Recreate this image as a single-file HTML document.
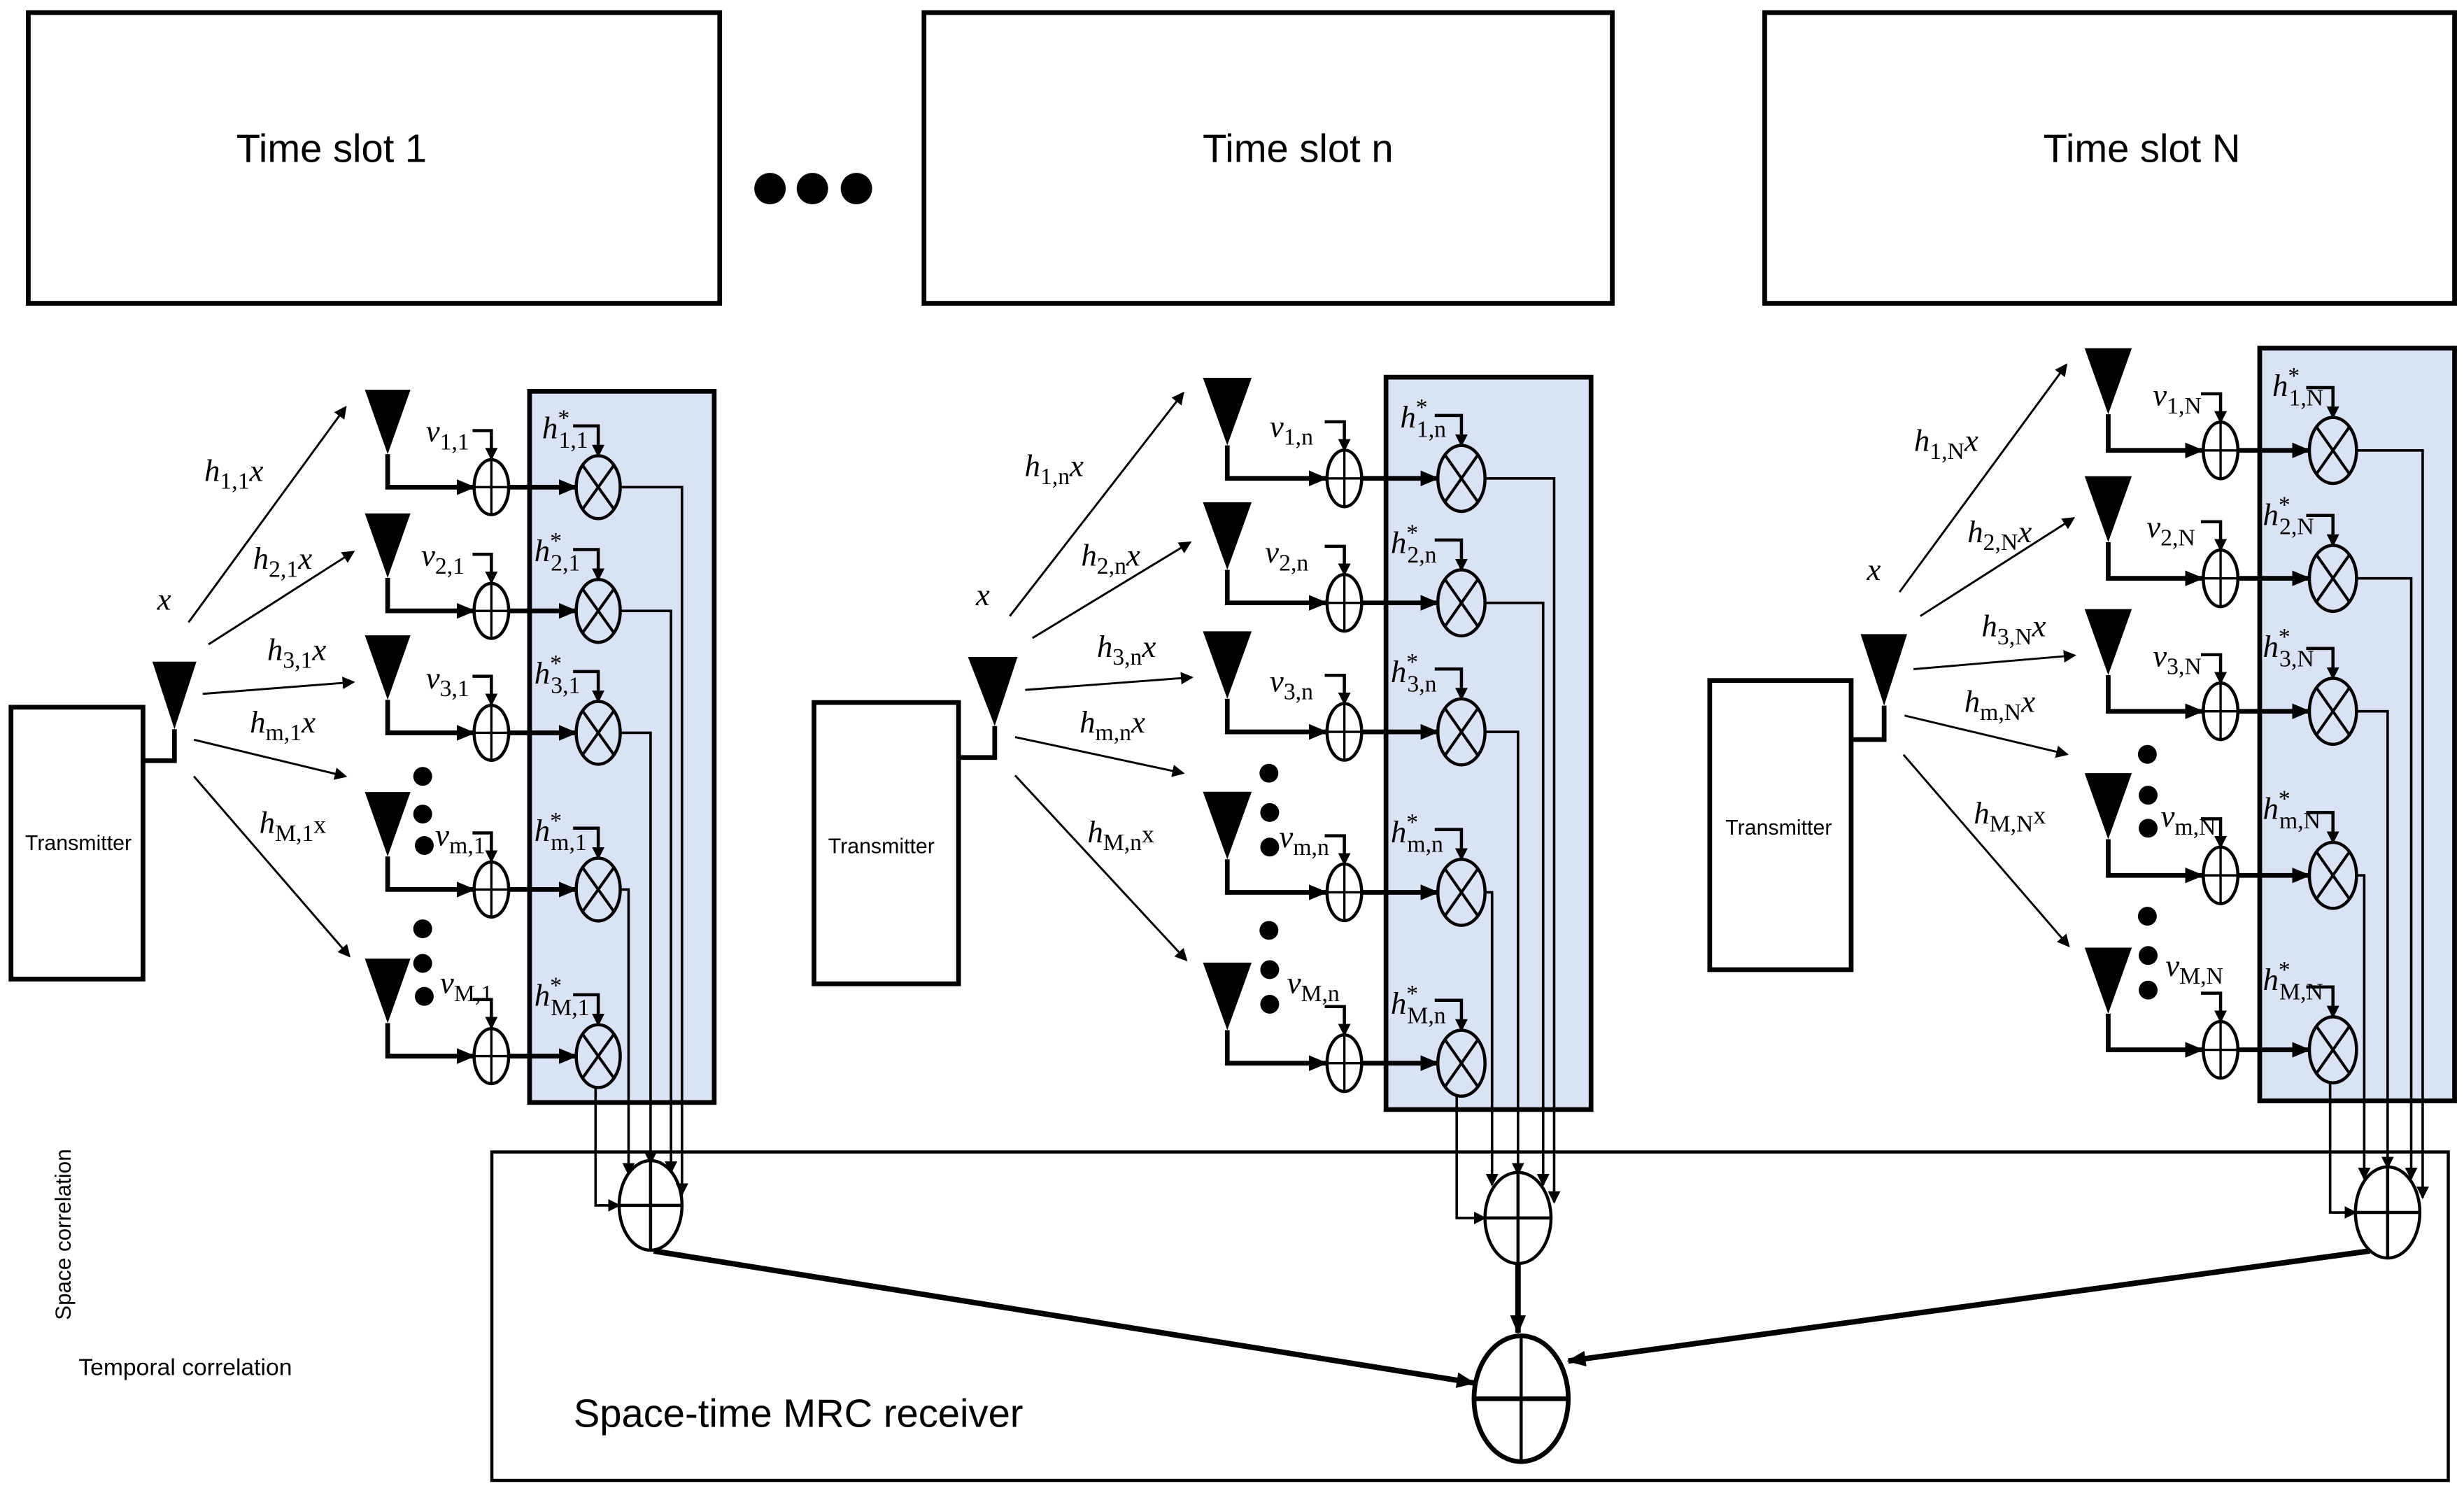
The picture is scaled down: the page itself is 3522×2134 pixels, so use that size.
<!DOCTYPE html>
<html><head><meta charset="utf-8"><style>
html,body{margin:0;padding:0;background:#fff}
svg{display:block}
.l{font-family:"Liberation Serif",serif;font-style:italic;font-size:20px}
.s{font-size:15px;font-style:normal}
.t{font-family:"Liberation Sans",sans-serif}
</style></head><body>
<svg width="3522" height="2134" viewBox="0 0 1568 950" preserveAspectRatio="none" xmlns="http://www.w3.org/2000/svg">
<defs>
<marker id="a" markerWidth="8" markerHeight="8" refX="7" refY="4" orient="auto" markerUnits="userSpaceOnUse"><path d="M0,0 L8,4 L0,8z"/></marker>
<marker id="b" markerWidth="12" markerHeight="10" refX="11" refY="5" orient="auto" markerUnits="userSpaceOnUse"><path d="M0,0 L12,5 L0,10z"/></marker>
<g id="rA">
<polygon points="-14.5,-62 14.5,-62 0,-21"/>
<polyline points="0,-21 0,0 55,0" fill="none" stroke="#000" stroke-width="3" marker-end="url(#b)"/>
<ellipse cx="66" cy="0" rx="11" ry="17.5" fill="none" stroke="#000" stroke-width="2"/>
<line x1="55" y1="0" x2="77" y2="0" stroke="#000" stroke-width="1.5"/>
<line x1="66" y1="-17.5" x2="66" y2="17.5" stroke="#000" stroke-width="1.5"/>
<line x1="77" y1="0" x2="120" y2="0" stroke="#000" stroke-width="3" marker-end="url(#b)"/>
<ellipse cx="134" cy="0" rx="14" ry="20" fill="none" stroke="#000" stroke-width="2"/>
<line x1="124" y1="-14" x2="144" y2="14" stroke="#000" stroke-width="1.8"/>
<line x1="144" y1="-14" x2="124" y2="14" stroke="#000" stroke-width="1.8"/>
<polyline points="54,-36 66,-36 66,-18" fill="none" stroke="#000" stroke-width="2" marker-end="url(#a)"/>
<polyline points="118,-39 134,-39 134,-20" fill="none" stroke="#000" stroke-width="2" marker-end="url(#a)"/>
</g>
<g id="rB">
<polygon points="-15.5,-64 15.5,-64 0,-21"/>
<polyline points="0,-21 0,0 63,0" fill="none" stroke="#000" stroke-width="3" marker-end="url(#b)"/>
<ellipse cx="74.5" cy="0" rx="11" ry="18" fill="none" stroke="#000" stroke-width="2"/>
<line x1="63.5" y1="0" x2="85.5" y2="0" stroke="#000" stroke-width="1.5"/>
<line x1="74.5" y1="-18" x2="74.5" y2="18" stroke="#000" stroke-width="1.5"/>
<line x1="85.5" y1="0" x2="134" y2="0" stroke="#000" stroke-width="3" marker-end="url(#b)"/>
<ellipse cx="149" cy="0" rx="15" ry="21" fill="none" stroke="#000" stroke-width="2"/>
<line x1="138.5" y1="-15" x2="159.5" y2="15" stroke="#000" stroke-width="1.8"/>
<line x1="159.5" y1="-15" x2="138.5" y2="15" stroke="#000" stroke-width="1.8"/>
<polyline points="62,-36 74.5,-36 74.5,-18" fill="none" stroke="#000" stroke-width="2" marker-end="url(#a)"/>
<polyline points="132,-40 149,-40 149,-21" fill="none" stroke="#000" stroke-width="2" marker-end="url(#a)"/>
</g>
<g id="rC">
<polygon points="-15,-65 15,-65 0,-23"/>
<polyline points="0,-23 0,0 60,0" fill="none" stroke="#000" stroke-width="3" marker-end="url(#b)"/>
<ellipse cx="71.5" cy="0" rx="11" ry="18" fill="none" stroke="#000" stroke-width="2"/>
<line x1="60.5" y1="0" x2="82.5" y2="0" stroke="#000" stroke-width="1.5"/>
<line x1="71.5" y1="-18" x2="71.5" y2="18" stroke="#000" stroke-width="1.5"/>
<line x1="82.5" y1="0" x2="128" y2="0" stroke="#000" stroke-width="3" marker-end="url(#b)"/>
<ellipse cx="143" cy="0" rx="15" ry="21" fill="none" stroke="#000" stroke-width="2"/>
<line x1="132.5" y1="-15" x2="153.5" y2="15" stroke="#000" stroke-width="1.8"/>
<line x1="153.5" y1="-15" x2="132.5" y2="15" stroke="#000" stroke-width="1.8"/>
<polyline points="59,-36 71.5,-36 71.5,-18" fill="none" stroke="#000" stroke-width="2" marker-end="url(#a)"/>
<polyline points="126,-40 143,-40 143,-21" fill="none" stroke="#000" stroke-width="2" marker-end="url(#a)"/>
</g>
</defs>

<g fill="#fff" stroke="#000" stroke-width="3">
<rect x="18" y="8" width="440" height="185"/>
<rect x="588" y="8" width="438" height="185"/>
<rect x="1123" y="8" width="439" height="185"/>
</g>
<g class="t" font-size="25" text-anchor="middle">
<text x="211" y="103">Time slot 1</text>
<text x="826" y="103">Time slot n</text>
<text x="1363" y="103">Time slot N</text>
</g>
<circle cx="490" cy="120" r="10"/><circle cx="517" cy="120" r="10"/><circle cx="545" cy="120" r="10"/>

<rect x="313" y="733" width="1245" height="209" fill="none" stroke="#000" stroke-width="2"/>

<rect x="337" y="249" width="117.5" height="452.5" fill="#dae3f3" stroke="#000" stroke-width="3"/>
<rect x="882" y="240" width="130.5" height="466" fill="#dae3f3" stroke="#000" stroke-width="3"/>
<rect x="1438" y="221.5" width="124" height="479" fill="#dae3f3" stroke="#000" stroke-width="3"/>

<g fill="#fff" stroke="#000" stroke-width="3">
<rect x="7" y="450" width="84" height="173"/>
<rect x="518" y="447" width="92" height="179"/>
<rect x="1088" y="433" width="90" height="184"/>
</g>
<polygon points="97,421 125,421 111,464"/>
<polyline points="111,464 111,484 91,484" fill="none" stroke="#000" stroke-width="3"/>
<polygon points="616,418 647.5,418 633,462"/>
<polyline points="633,462 633,482 610,482" fill="none" stroke="#000" stroke-width="3"/>
<polygon points="1184,403.5 1213.6,403.5 1199,449"/>
<polyline points="1199,449 1199,470.6 1178,470.6" fill="none" stroke="#000" stroke-width="3"/>

<g stroke="#000" stroke-width="1.3" marker-end="url(#a)">
<line x1="120" y1="396" x2="220" y2="259"/>
<line x1="132.7" y1="410" x2="225" y2="351"/>
<line x1="129" y1="441.5" x2="225" y2="434"/>
<line x1="123.4" y1="470.7" x2="220" y2="494"/>
<line x1="123.4" y1="494" x2="222.4" y2="608.5"/>
<line x1="642.6" y1="392" x2="753" y2="250"/>
<line x1="657" y1="406" x2="757.5" y2="345"/>
<line x1="652.4" y1="439" x2="758.5" y2="431"/>
<line x1="646" y1="469" x2="753" y2="492"/>
<line x1="646" y1="493.4" x2="755" y2="611"/>
<line x1="1208.8" y1="376.7" x2="1315" y2="232"/>
<line x1="1222" y1="392" x2="1319.7" y2="329.6"/>
<line x1="1217.7" y1="425.8" x2="1320.3" y2="417"/>
<line x1="1212" y1="455.3" x2="1315.5" y2="480"/>
<line x1="1211.3" y1="480.2" x2="1316.5" y2="602"/>
</g>

<use href="#rA" transform="translate(246.7,310)"/>
<use href="#rA" transform="translate(246.7,388.7)"/>
<use href="#rA" transform="translate(246.7,466.3)"/>
<use href="#rA" transform="translate(246.7,566)"/>
<use href="#rA" transform="translate(246.7,672)"/>
<use href="#rB" transform="translate(781,304.4)"/>
<use href="#rB" transform="translate(781,383.6)"/>
<use href="#rB" transform="translate(781,465.7)"/>
<use href="#rB" transform="translate(781,567.8)"/>
<use href="#rB" transform="translate(781,676.5)"/>
<use href="#rC" transform="translate(1341.6,286.6)"/>
<use href="#rC" transform="translate(1341.6,368)"/>
<use href="#rC" transform="translate(1341.6,452.6)"/>
<use href="#rC" transform="translate(1341.6,557)"/>
<use href="#rC" transform="translate(1341.6,668)"/>

<circle cx="269" cy="494" r="6"/><circle cx="269" cy="518" r="6"/><circle cx="270" cy="538" r="6"/>
<circle cx="269" cy="591" r="6"/><circle cx="269" cy="613" r="6"/><circle cx="270" cy="634" r="6"/>
<circle cx="807.5" cy="492" r="6"/><circle cx="808" cy="517" r="6"/><circle cx="808" cy="539" r="6"/>
<circle cx="807.5" cy="592" r="6"/><circle cx="808" cy="617" r="6"/><circle cx="808" cy="639" r="6"/>
<circle cx="1366.5" cy="480" r="6"/><circle cx="1367" cy="506" r="6"/><circle cx="1367" cy="527" r="6"/>
<circle cx="1366.5" cy="583" r="6"/><circle cx="1367" cy="608" r="6"/><circle cx="1367" cy="630" r="6"/>

<g fill="none" stroke="#000" stroke-width="1.6">
<polyline points="394,310 434,310 434,760" marker-end="url(#a)"/>
<polyline points="394,388.7 427,388.7 427,746" marker-end="url(#a)"/>
<polyline points="394,466.3 414,466.3 414,740" marker-end="url(#a)"/>
<polyline points="394,566 400,566 400,747" marker-end="url(#a)"/>
<polyline points="379,692 379,767 394,767" marker-end="url(#a)"/>
<polyline points="945,304.4 989,304.4 989,765" marker-end="url(#a)"/>
<polyline points="945,383.6 982,383.6 982,754" marker-end="url(#a)"/>
<polyline points="945,465.7 966,465.7 966,747" marker-end="url(#a)"/>
<polyline points="945,567.8 949.5,567.8 949.5,754" marker-end="url(#a)"/>
<polyline points="927,697 927,775 945,775" marker-end="url(#a)"/>
<polyline points="1499,286.6 1541.7,286.6 1541.7,762" marker-end="url(#a)"/>
<polyline points="1499,368 1534.4,368 1534.4,750" marker-end="url(#a)"/>
<polyline points="1499,452.6 1519.4,452.6 1519.4,743" marker-end="url(#a)"/>
<polyline points="1499,557 1504.5,557 1504.5,750" marker-end="url(#a)"/>
<polyline points="1482.8,689 1482.8,771.5 1499,771.5" marker-end="url(#a)"/>
</g>
<g fill="none" stroke="#000" stroke-width="2">
<ellipse cx="414" cy="767" rx="20" ry="28.5"/>
<line x1="394" y1="767" x2="434" y2="767"/><line x1="414" y1="738.5" x2="414" y2="795.5"/>
<ellipse cx="966" cy="775" rx="21" ry="29"/>
<line x1="945" y1="775" x2="987" y2="775"/><line x1="966" y1="746" x2="966" y2="804"/>
<ellipse cx="1519.4" cy="771.5" rx="20.5" ry="29"/>
<line x1="1499" y1="771.5" x2="1540" y2="771.5"/><line x1="1519.4" y1="742.5" x2="1519.4" y2="800.5"/>
</g>

<ellipse cx="968" cy="890" rx="30" ry="40" fill="none" stroke="#000" stroke-width="3"/>
<line x1="938" y1="890" x2="998" y2="890" stroke="#000" stroke-width="3"/>
<line x1="968" y1="850" x2="968" y2="930" stroke="#000" stroke-width="2"/>
<g stroke="#000" stroke-width="3.5" marker-end="url(#b)">
<line x1="416" y1="796" x2="938" y2="880"/>
<line x1="966" y1="804" x2="966" y2="848"/>
<line x1="1508" y1="796" x2="998" y2="866"/>
</g>

<text class="t" font-size="14" transform="translate(45,840) rotate(-90)">Space correlation</text>
<text class="t" font-size="15" x="50" y="875">Temporal correlation</text>
<text class="t" font-size="25" x="365" y="908">Space-time MRC receiver</text>

<g class="t" font-size="13.5">
<text x="16" y="541">Transmitter</text>
<text x="527" y="543">Transmitter</text>
<text x="1098" y="531">Transmitter</text>
</g>

<g class="l">
<text x="100" y="388">x</text>
<text x="130" y="306">h<tspan class="s" dy="5">1,1</tspan><tspan dy="-5">x</tspan></text>
<text x="161" y="362">h<tspan class="s" dy="5">2,1</tspan><tspan dy="-5">x</tspan></text>
<text x="170" y="420">h<tspan class="s" dy="5">3,1</tspan><tspan dy="-5">x</tspan></text>
<text x="159" y="466">h<tspan class="s" dy="5">m,1</tspan><tspan dy="-5">x</tspan></text>
<text x="165" y="530">h<tspan class="s" dy="5">M,1</tspan><tspan dy="-5" font-style="normal" font-size="16">x</tspan></text>
<text x="271" y="281">v<tspan class="s" dy="5">1,1</tspan></text>
<text x="268" y="360">v<tspan class="s" dy="5">2,1</tspan></text>
<text x="271" y="438">v<tspan class="s" dy="5">3,1</tspan></text>
<text x="277" y="538">v<tspan class="s" dy="5">m,1</tspan></text>
<text x="280" y="632">v<tspan class="s" dy="5">M,1</tspan></text>
<text x="345" y="279">h<tspan class="s" dy="-8">*</tspan><tspan class="s" dx="-7" dy="14">1,1</tspan></text>
<text x="340" y="357">h<tspan class="s" dy="-8">*</tspan><tspan class="s" dx="-7" dy="14">2,1</tspan></text>
<text x="340" y="435">h<tspan class="s" dy="-8">*</tspan><tspan class="s" dx="-7" dy="14">3,1</tspan></text>
<text x="340" y="535">h<tspan class="s" dy="-8">*</tspan><tspan class="s" dx="-7" dy="14">m,1</tspan></text>
<text x="340" y="640">h<tspan class="s" dy="-8">*</tspan><tspan class="s" dx="-7" dy="14">M,1</tspan></text>
</g>
<g class="l">
<text x="621" y="385">x</text>
<text x="652" y="303">h<tspan class="s" dy="5">1,n</tspan><tspan dy="-5">x</tspan></text>
<text x="688" y="360">h<tspan class="s" dy="5">2,n</tspan><tspan dy="-5">x</tspan></text>
<text x="698" y="418">h<tspan class="s" dy="5">3,n</tspan><tspan dy="-5">x</tspan></text>
<text x="687" y="466">h<tspan class="s" dy="5">m,n</tspan><tspan dy="-5">x</tspan></text>
<text x="692" y="536">h<tspan class="s" dy="5">M,n</tspan><tspan dy="-5" font-style="normal" font-size="16">x</tspan></text>
<text x="808" y="278">v<tspan class="s" dy="5">1,n</tspan></text>
<text x="805" y="358">v<tspan class="s" dy="5">2,n</tspan></text>
<text x="808" y="440">v<tspan class="s" dy="5">3,n</tspan></text>
<text x="814" y="539">v<tspan class="s" dy="5">m,n</tspan></text>
<text x="819" y="632">v<tspan class="s" dy="5">M,n</tspan></text>
<text x="891" y="272">h<tspan class="s" dy="-8">*</tspan><tspan class="s" dx="-7" dy="14">1,n</tspan></text>
<text x="885" y="352">h<tspan class="s" dy="-8">*</tspan><tspan class="s" dx="-7" dy="14">2,n</tspan></text>
<text x="885" y="434">h<tspan class="s" dy="-8">*</tspan><tspan class="s" dx="-7" dy="14">3,n</tspan></text>
<text x="885" y="536">h<tspan class="s" dy="-8">*</tspan><tspan class="s" dx="-7" dy="14">m,n</tspan></text>
<text x="885" y="645">h<tspan class="s" dy="-8">*</tspan><tspan class="s" dx="-7" dy="14">M,n</tspan></text>
</g>
<g class="l">
<text x="1188" y="369">x</text>
<text x="1218" y="287">h<tspan class="s" dy="5">1,N</tspan><tspan dy="-5">x</tspan></text>
<text x="1252" y="345">h<tspan class="s" dy="5">2,N</tspan><tspan dy="-5">x</tspan></text>
<text x="1261" y="405">h<tspan class="s" dy="5">3,N</tspan><tspan dy="-5">x</tspan></text>
<text x="1250" y="453">h<tspan class="s" dy="5">m,N</tspan><tspan dy="-5">x</tspan></text>
<text x="1256" y="524">h<tspan class="s" dy="5">M,N</tspan><tspan dy="-5" font-style="normal" font-size="16">x</tspan></text>
<text x="1370" y="258">v<tspan class="s" dy="5">1,N</tspan></text>
<text x="1366" y="342">v<tspan class="s" dy="5">2,N</tspan></text>
<text x="1370" y="424">v<tspan class="s" dy="5">3,N</tspan></text>
<text x="1375" y="526">v<tspan class="s" dy="5">m,N</tspan></text>
<text x="1378" y="621">v<tspan class="s" dy="5">M,N</tspan></text>
<text x="1446" y="252">h<tspan class="s" dy="-8">*</tspan><tspan class="s" dx="-7" dy="14">1,N</tspan></text>
<text x="1440" y="334">h<tspan class="s" dy="-8">*</tspan><tspan class="s" dx="-7" dy="14">2,N</tspan></text>
<text x="1440" y="418">h<tspan class="s" dy="-8">*</tspan><tspan class="s" dx="-7" dy="14">3,N</tspan></text>
<text x="1440" y="521">h<tspan class="s" dy="-8">*</tspan><tspan class="s" dx="-7" dy="14">m,N</tspan></text>
<text x="1440" y="630">h<tspan class="s" dy="-8">*</tspan><tspan class="s" dx="-7" dy="14">M,N</tspan></text>
</g>
</svg>
</body></html>
